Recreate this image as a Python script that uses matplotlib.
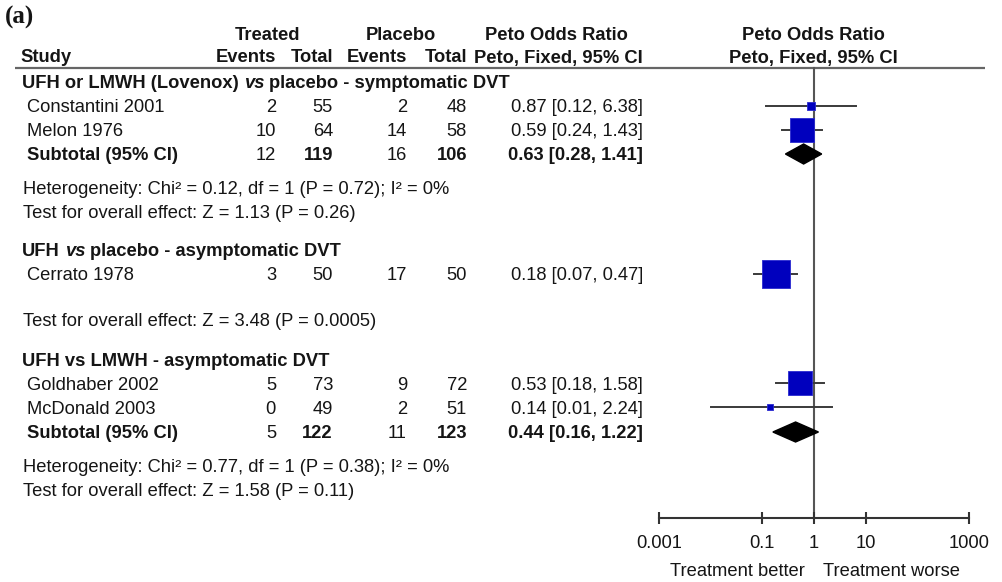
import matplotlib
matplotlib.use('Agg')
import matplotlib.pyplot as plt
from matplotlib.patches import Polygon
import numpy as np

# study rows
studies = ["Constantini 2001", "Melon 1976", "Cerrato 1978", "Goldhaber 2002", "McDonald 2003"]
treated_events = [2, 10, 3, 5, 0]
treated_total = [55, 64, 50, 73, 49]
placebo_events = [2, 14, 17, 9, 2]
placebo_total = [48, 58, 50, 72, 51]
odds_ratio = [0.87, 0.59, 0.18, 0.53, 0.14]
ci_low = [0.12, 0.24, 0.07, 0.18, 0.01]
ci_high = [6.38, 1.43, 0.47, 1.58, 2.24]
box_weight = [7, 76, 100, 76, 5]

# subtotal rows
sub_treated_events = [12, 5]
sub_treated_total = [119, 122]
sub_placebo_events = [16, 11]
sub_placebo_total = [106, 123]
sub_or = [0.63, 0.44]
sub_low = [0.28, 0.16]
sub_high = [1.41, 1.22]

group_titles = [
    ["UFH or LMWH (Lovenox)", "vs", "placebo - symptomatic DVT"],
    ["UFH", "vs", "placebo - asymptomatic DVT"],
    ["UFH vs LMWH - asymptomatic DVT"],
]
heterogeneity = [
    "Heterogeneity: Chi\u00b2 = 0.12, df = 1 (P = 0.72); I\u00b2 = 0%",
    "Heterogeneity: Chi\u00b2 = 0.77, df = 1 (P = 0.38); I\u00b2 = 0%",
]
overall_tests = [
    "Test for overall effect: Z = 1.13 (P = 0.26)",
    "Test for overall effect: Z = 3.48 (P = 0.0005)",
    "Test for overall effect: Z = 1.58 (P = 0.11)",
]
ticks = [0.001, 0.1, 1, 10, 1000]
tick_labels = ["0.001", "0.1", "1", "10", "1000"]

# layout (pixel rows, top = 0)
study_y = [106, 130, 274, 383, 407]
sub_y = [154, 432]
group_y = [82, 250, 359]
het_y = [187, 465]
test_y = [211, 320, 489]
W, H = 1003, 582
FS = 13.2
TXT = '#151515'
plt.rcParams['font.family'] = ['Liberation Sans', 'DejaVu Sans']

fig = plt.figure(figsize=(W / 100, H / 100), dpi=100)
ax = fig.add_axes([0, 0, 1, 1])
ax.set_xlim(0, W)
ax.set_ylim(H, 0)
ax.axis('off')


def put(x, y, s, ha='left', bold=False, italic=False, size=FS, **kw):
    # y is the visual centre of the cap height
    return ax.text(x, y + 6.5, s, ha=ha, va='baseline', fontsize=size, color=TXT,
                   fontweight='bold' if bold else 'normal',
                   fontstyle='italic' if italic else 'normal', **kw)


ax.text(5, 24, "(a)", fontsize=18, fontweight='bold', family='Liberation Serif',
        va='baseline', color=TXT)

# header
put(268, 33, "Treated", ha='center', bold=True)
put(401, 33, "Placebo", ha='center', bold=True)
put(556, 33, "Peto Odds Ratio", ha='center', bold=True)
put(813, 33, "Peto Odds Ratio", ha='center', bold=True)
put(20, 56, "Study", bold=True)
put(276, 56, "Events", ha='right', bold=True)
put(333, 56, "Total", ha='right', bold=True)
put(407, 56, "Events", ha='right', bold=True)
put(467, 56, "Total", ha='right', bold=True)
put(643, 56, "Peto, Fixed, 95% CI", ha='right', bold=True)
put(813, 56, "Peto, Fixed, 95% CI", ha='center', bold=True)
ax.plot([15, 985], [68, 68], color='#666666', lw=1.6, solid_capstyle='butt')

# group titles, with italic "vs" where needed
renderer = fig.canvas.get_renderer()
for gy, parts in zip(group_y, group_titles):
    x = 22
    for i, p in enumerate(parts):
        t = put(x, gy, p, bold=True, italic=(p == "vs" and len(parts) > 1))
        x = t.get_window_extent(renderer).x1 + 5

for i, name in enumerate(studies):
    y = study_y[i]
    put(27, y, name)
    put(276, y, str(treated_events[i]), ha='right')
    put(333, y, str(treated_total[i]), ha='right')
    put(407, y, str(placebo_events[i]), ha='right')
    put(467, y, str(placebo_total[i]), ha='right')
    put(643, y, f"{odds_ratio[i]:.2f} [{ci_low[i]:.2f}, {ci_high[i]:.2f}]", ha='right')

for i, y in enumerate(sub_y):
    put(27, y, "Subtotal (95% CI)", bold=True)
    put(276, y, str(sub_treated_events[i]), ha='right')
    put(333, y, str(sub_treated_total[i]), ha='right', bold=True)
    put(407, y, str(sub_placebo_events[i]), ha='right')
    put(467, y, str(sub_placebo_total[i]), ha='right', bold=True)
    put(643, y, f"{sub_or[i]:.2f} [{sub_low[i]:.2f}, {sub_high[i]:.2f}]", ha='right', bold=True)

for y, s in zip(het_y, heterogeneity):
    put(23, y, s)
for y, s in zip(test_y, overall_tests):
    put(23, y, s)

# forest panel: log x, y in pixel rows
axis_y = 518
fx0, fx1 = 659, 969
fa = fig.add_axes([fx0 / W, (H - axis_y) / H, (fx1 - fx0) / W, axis_y / H])
fa.patch.set_alpha(0)
fa.set_xscale('log')
fa.set_xlim(ticks[0], ticks[-1])
fa.set_ylim(axis_y, 0)
for s in ['top', 'left', 'right']:
    fa.spines[s].set_visible(False)
fa.spines['bottom'].set_color('#333333')
fa.spines['bottom'].set_linewidth(1.5)
fa.set_yticks([])
fa.set_xticks(ticks)
fa.set_xticklabels(tick_labels)
fa.xaxis.set_minor_locator(matplotlib.ticker.NullLocator())
fa.tick_params(axis='x', direction='inout', length=8, width=1.5, color='#333333',
               labelsize=FS, labelcolor=TXT, pad=8)

fa.plot([1, 1], [68, axis_y], color='#555555', lw=1.5, zorder=1)

for i in range(len(studies)):
    y = study_y[i]
    fa.plot([ci_low[i], ci_high[i]], [y, y], color='#3a3a3a', lw=1.4, zorder=2)
    side = 2.75 * np.sqrt(box_weight[i])
    fa.scatter([odds_ratio[i]], [y], marker='s', s=(side * 0.72) ** 2,
               color='#0000BE', edgecolor='#2a2ad0', linewidths=0.6, zorder=3)

for i, y in enumerate(sub_y):
    dia = Polygon([[sub_low[i], y], [sub_or[i], y - 10], [sub_high[i], y], [sub_or[i], y + 10]],
                  closed=True, color='black', zorder=3)
    fa.add_patch(dia)

ax.text(805, 576, "Treatment better", ha='right', va='baseline', fontsize=FS, color=TXT)
ax.text(823, 576, "Treatment worse", ha='left', va='baseline', fontsize=FS, color=TXT)

fig.savefig('out.png', dpi=100, facecolor='white')
plt.close(fig)
